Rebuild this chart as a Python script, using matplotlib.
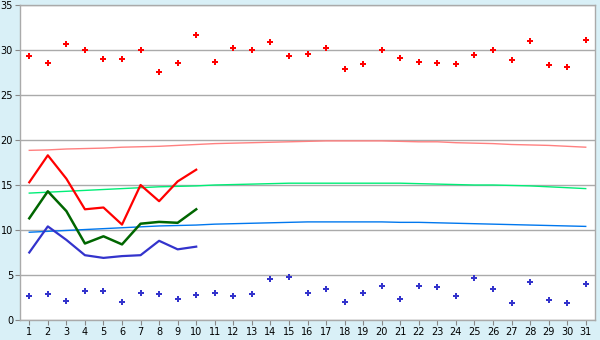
import matplotlib
matplotlib.use("Agg")
import matplotlib.pyplot as plt

# Data
days = list(range(1, 32))

red_points = [29.3, 28.6, 30.7, 30.0, 29.0, 29.0, 30.0, 27.6, 28.6, 31.7,
              28.7, 30.2, 30.0, 30.9, 29.3, 29.6, 30.2, 27.9, 28.4, 30.0,
              29.1, 28.7, 28.6, 28.5, 29.4, 30.0, 28.9, 31.0, 28.3, 28.1, 31.1]
blue_points = [2.63, 2.85, 2.07, 3.19, 3.19, 1.96, 2.96, 2.85, 2.3, 2.74,
               2.96, 2.63, 2.85, 4.52, 4.74, 2.96, 3.41, 1.96, 2.96, 3.74,
               2.3, 3.74, 3.63, 2.63, 4.63, 3.41, 1.85, 4.19, 2.19, 1.85, 3.96]

line_days = list(range(1, 11))
red_line = [15.3, 18.3, 15.7, 12.3, 12.5, 10.6, 15.0, 13.2, 15.4, 16.7]
green_line = [11.3, 14.3, 12.1, 8.5, 9.3, 8.4, 10.7, 10.9, 10.8, 12.3]
blue_line = [7.5, 10.4, 8.9, 7.2, 6.9, 7.1, 7.2, 8.8, 7.85, 8.15]

pink_ref = [18.85, 18.9, 19.0, 19.05, 19.1, 19.2, 19.25, 19.3, 19.4, 19.5,
            19.6, 19.65, 19.7, 19.75, 19.8, 19.85, 19.9, 19.9, 19.9, 19.9,
            19.85, 19.8, 19.8, 19.7, 19.65, 19.6, 19.5, 19.45, 19.4, 19.3, 19.2]
lgreen_ref = [14.1, 14.2, 14.3, 14.4, 14.5, 14.6, 14.7, 14.8, 14.85, 14.9,
              15.0, 15.05, 15.1, 15.15, 15.2, 15.2, 15.2, 15.2, 15.2, 15.2,
              15.2, 15.15, 15.1, 15.05, 15.0, 15.0, 14.95, 14.9, 14.8, 14.7, 14.6]
lblue_ref = [9.75, 9.85, 9.95, 10.05, 10.15, 10.25, 10.35, 10.45, 10.5, 10.55,
             10.65, 10.7, 10.75, 10.8, 10.85, 10.9, 10.9, 10.9, 10.9, 10.9,
             10.85, 10.85, 10.8, 10.75, 10.7, 10.65, 10.6, 10.55, 10.5, 10.45, 10.4]

fig = plt.figure(figsize=(6, 3.4), dpi=100, facecolor="#d9f0f7")
ax = fig.add_axes([20 / 600, 1 - 320 / 340, 575 / 600, 315 / 340])
ax.set_facecolor("white")

# reference bands
ax.plot(days, pink_ref, color="#ff8080", linewidth=1.0)
ax.plot(days, lgreen_ref, color="#00ee77", linewidth=1.0)
ax.plot(days, lblue_ref, color="#0077ee", linewidth=1.0)

# daily lines
ax.plot(line_days, red_line, color="#ff0000", linewidth=1.6)
ax.plot(line_days, green_line, color="#006600", linewidth=1.8)
ax.plot(line_days, blue_line, color="#3333cc", linewidth=1.6)

# points
ax.plot(days, red_points, linestyle="none", marker="P", markersize=4.8,
        color="#ff0000", markeredgewidth=0)
ax.plot(days, blue_points, linestyle="none", marker="P", markersize=4.5,
        color="#3333cc", markeredgewidth=0)

ax.set_xlim(0.5, 31.5)
ax.set_ylim(0, 35)
ax.set_xticks(days)
ax.set_yticks(range(0, 36, 5))
ax.yaxis.grid(True, color="#aaaaaa", linewidth=1)
ax.set_axisbelow(True)
ax.tick_params(axis="both", labelsize=7, length=3.5, color="#888888",
               direction="out", pad=1.5)
for s in ax.spines.values():
    s.set_color("#aaaaaa")
    s.set_linewidth(1)

fig.savefig("out.png", dpi=100, facecolor=fig.get_facecolor())
